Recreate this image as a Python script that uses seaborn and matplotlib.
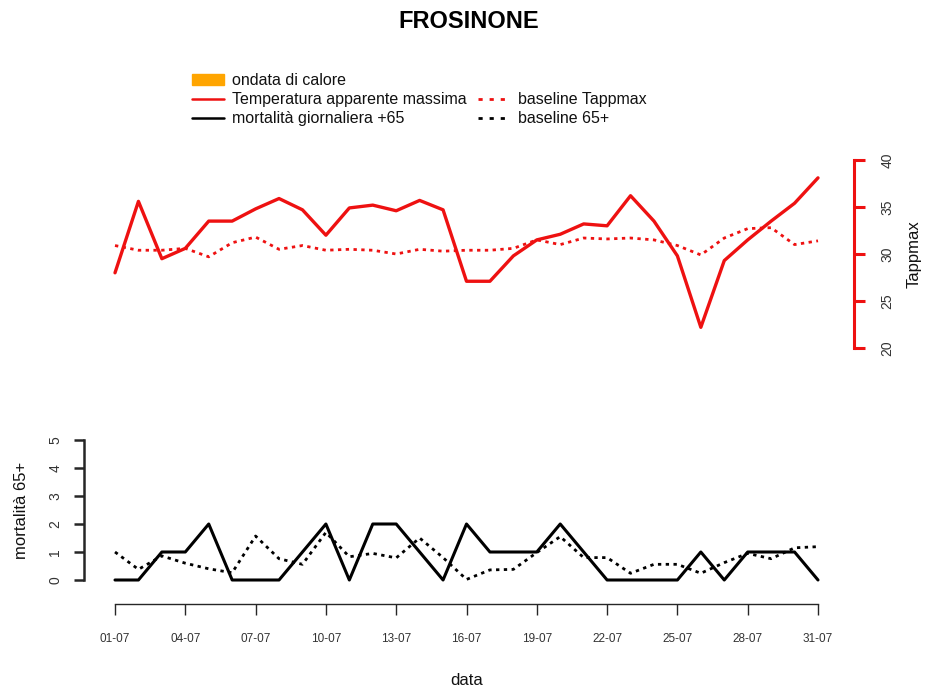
import numpy as np
import pandas as pd
import matplotlib
matplotlib.use("Agg")
import matplotlib.pyplot as plt
import matplotlib.patches as mpatches
import matplotlib.lines as mlines
import seaborn as sns

# days of July
giorni = list(range(1, 32))
tick_giorni = [1, 4, 7, 10, 13, 16, 19, 22, 25, 28, 31]
tick_labels = ["%02d-07" % g for g in tick_giorni]

# temperatura apparente massima and its baseline
tappmax = [28.0, 35.6, 29.5, 30.6, 33.5, 33.5, 34.8, 35.9, 34.7, 32.0,
           34.9, 35.2, 34.6, 35.7, 34.7, 27.1, 27.1, 29.8, 31.5, 32.1,
           33.2, 33.0, 36.2, 33.5, 29.8, 22.2, 29.3, 31.5, 33.5, 35.4, 38.1]
base_tappmax = [30.9, 30.4, 30.4, 30.6, 29.7, 31.2, 31.8, 30.5, 30.9, 30.4,
                30.5, 30.4, 30.0, 30.5, 30.3, 30.4, 30.4, 30.6, 31.5, 31.0,
                31.7, 31.6, 31.7, 31.5, 30.9, 29.9, 31.7, 32.7, 32.8, 31.0, 31.4]

# mortalita giornaliera 65+ and its baseline
mort65 = [0, 0, 1, 1, 2, 0, 0, 0, 1, 2, 0, 2, 2, 1, 0, 2, 1, 1, 1, 2,
          1, 0, 0, 0, 0, 1, 0, 1, 1, 1, 0]
base_mort65 = [1.0, 0.38, 0.86, 0.6, 0.4, 0.26, 1.57, 0.76, 0.56, 1.7,
               0.83, 0.95, 0.79, 1.5, 0.8, 0.02, 0.36, 0.38, 0.98, 1.55,
               0.8, 0.8, 0.24, 0.56, 0.56, 0.24, 0.62, 0.95, 0.76, 1.15, 1.19]

df = pd.DataFrame({"giorno": giorni, "tappmax": tappmax, "base_tappmax": base_tappmax,
                   "mort65": mort65, "base_mort65": base_mort65})

sns.set_style("white")
plt.rcParams["font.family"] = ["Liberation Sans", "DejaVu Sans"]
plt.rcParams["text.color"] = "#111111"
plt.rcParams["axes.labelcolor"] = "#111111"

rosso = "#ee1111"
dotted = (0, (1.2, 1.6))

W, H = 938, 693
fig = plt.figure(figsize=(W / 100, H / 100), dpi=100)

def px_axes(x0, y_top, x1, y_bot):
    return fig.add_axes([x0 / W, 1 - y_bot / H, (x1 - x0) / W, (y_bot - y_top) / H])

# top panel: temperature
ax1 = px_axes(115, 160, 818, 348)
sns.lineplot(data=df, x="giorno", y="tappmax", ax=ax1, color=rosso, lw=2.4, clip_on=False)
sns.lineplot(data=df, x="giorno", y="base_tappmax", ax=ax1, color=rosso, lw=2.0,
             linestyle=dotted, clip_on=False)
ax1.set_xlim(1, 31)
ax1.set_ylim(20, 40)
for s in ["left", "top", "bottom"]:
    ax1.spines[s].set_visible(False)
ax1.spines["right"].set_position(("outward", 26))
ax1.spines["right"].set_bounds(20, 40)
ax1.spines["right"].set_color(rosso)
ax1.spines["right"].set_linewidth(2.2)
ax1.yaxis.tick_right()
ax1.set_yticks([20, 25, 30, 35, 40])
ax1.tick_params(axis="y", right=True, length=8, width=2.2, color=rosso,
                labelsize=10, labelcolor="#333333", pad=11)
for lab in ax1.get_yticklabels():
    lab.set_rotation(90)
    lab.set_va("center")
ax1.set_xticks([])
ax1.set_xlabel("")
ax1.yaxis.set_label_position("right")
ax1.set_ylabel("Tappmax", fontsize=12, labelpad=9)

# bottom panel: mortality
ax2 = px_axes(115, 440, 818, 580)
sns.lineplot(data=df, x="giorno", y="mort65", ax=ax2, color="black", lw=2.2, clip_on=False)
sns.lineplot(data=df, x="giorno", y="base_mort65", ax=ax2, color="black", lw=2.0,
             linestyle=dotted, clip_on=False)
ax2.set_xlim(1, 31)
ax2.set_ylim(0, 5)
for s in ["right", "top"]:
    ax2.spines[s].set_visible(False)
ax2.spines["left"].set_position(("outward", 22))
ax2.spines["left"].set_bounds(0, 5)
ax2.spines["left"].set_linewidth(1.8)
ax2.spines["bottom"].set_position(("outward", 17))
ax2.spines["bottom"].set_bounds(1, 31)
ax2.spines["bottom"].set_linewidth(1.0)
ax2.set_yticks([0, 1, 2, 3, 4, 5])
ax2.tick_params(axis="y", left=True, length=7, width=1.8, labelsize=10,
                labelcolor="#333333", pad=9)
for lab in ax2.get_yticklabels():
    lab.set_rotation(90)
    lab.set_va("center")
ax2.set_xticks(tick_giorni)
ax2.set_xticklabels(tick_labels)
ax2.tick_params(axis="x", bottom=True, length=8, width=1.0, labelsize=8.5,
                labelcolor="#333333", pad=13)
ax2.set_ylabel("mortalità 65+", fontsize=12, labelpad=14)
ax2.set_xlabel("data", fontsize=12, labelpad=20)

fig.suptitle("FROSINONE", fontsize=17, fontweight="bold", y=1 - 22 / H, va="center",
             color="black")

handles = [
    mpatches.Patch(color="orange"),
    mlines.Line2D([], [], color=rosso, lw=1.8),
    mlines.Line2D([], [], color="black", lw=1.8),
    mlines.Line2D([], [], color="none"),
    mlines.Line2D([], [], color=rosso, lw=2.0, linestyle=(0, (1.5, 2.5))),
    mlines.Line2D([], [], color="black", lw=2.0, linestyle=(0, (1.5, 2.5))),
]
labels = ["ondata di calore", "Temperatura apparente massima", "mortalità giornaliera +65",
          "", "baseline Tappmax", "baseline 65+"]
fig.legend(handles, labels, ncol=2, loc="upper left", bbox_to_anchor=(186 / W, 1 - 67 / H),
           frameon=False, fontsize=11.5, handlelength=2.0, handletextpad=0.5,
           labelspacing=0.25, columnspacing=0.7, borderaxespad=0)

fig.savefig("out.png", dpi=100)
